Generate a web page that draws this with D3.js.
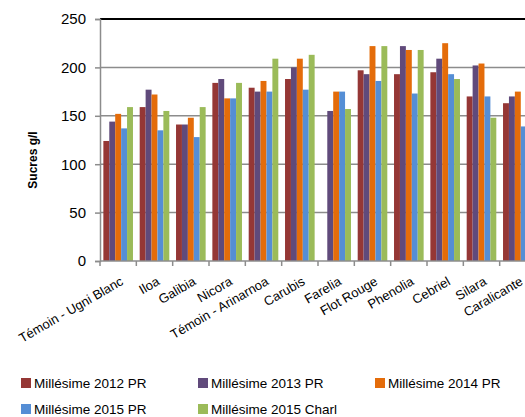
<!DOCTYPE html>
<html>
<head>
<meta charset="utf-8">
<script src="https://cdn.jsdelivr.net/npm/d3@7"></script>
<style>
  html, body { margin: 0; padding: 0; background: #fff; overflow: hidden; }
  svg { display: block; font-family: "Liberation Sans", Arial, sans-serif; }
</style>
</head>
<body>
<svg id="chart" width="525" height="417"></svg>
<script>
// Varieties (x categories)
const categories = ["Témoin - Ugni Blanc", "Iloa", "Galibia", "Nicora", "Témoin - Arinarnoa",
  "Carubis", "Farelia", "Flot Rouge", "Phenolia", "Cebriel", "Silara", "Caralicante"];

// Series names and sugar contents (g/l)
const seriesNames = ["Millésime 2012 PR", "Millésime 2013 PR", "Millésime 2014 PR",
  "Millésime 2015 PR", "Millésime 2015 Charl"];
const v2012PR = [124, 159, 141, 184, 179, 188, null, 197, 193, 195, 170, 163];
const v2013PR = [144, 177, 141, 188, 175, 200, 155, 193, 222, 209, 202, 170];
const v2014PR = [152, 172, 148, 168, 186, 209, 175, 222, 218, 225, 204, 175];
const v2015PR = [137, 135, 128, 168, 175, 177, 175, 186, 173, 193, 170, 139];
const v2015Charl = [159, 155, 159, 184, 209, 213, 157, 222, 218, 188, 148, 150];
const seriesColors = ["#953735", "#604a7b", "#e46c0a", "#558ed5", "#9bbb59"];
const yTicks = [0, 50, 100, 150, 200, 250];

const seriesValues = [v2012PR, v2013PR, v2014PR, v2015PR, v2015Charl];

const svg = d3.select("#chart");
const plot = { left: 100, right: 536, top: 19, bottom: 261 };

const x = d3.scaleBand().domain(categories)
  .range([plot.left, plot.right]).paddingInner(0.185).paddingOuter(0.0925);
const xs = d3.scaleBand().domain(d3.range(seriesNames.length))
  .range([0, x.bandwidth()]).padding(0);
const y = d3.scaleLinear().domain([0, 250]).range([plot.bottom, plot.top]);

// Horizontal gridlines
svg.append("g").selectAll("line").data(yTicks.filter(t => t > 0 && t < 250)).join("line")
  .attr("x1", plot.left).attr("x2", plot.right)
  .attr("y1", d => y(d)).attr("y2", d => y(d))
  .attr("stroke", "#8c8c8c").attr("stroke-width", 1.5);

// Top border line
svg.append("line")
  .attr("x1", plot.left).attr("x2", plot.right)
  .attr("y1", y(250)).attr("y2", y(250))
  .attr("stroke", "#000").attr("stroke-width", 2);

// Bars
const groups = svg.append("g").selectAll("g").data(categories).join("g")
  .attr("transform", d => `translate(${x(d)},0)`);
groups.selectAll("rect")
  .data((d, i) => seriesValues.map((vals, s) => ({ s, v: vals[i] })).filter(e => e.v != null))
  .join("rect")
  .attr("x", d => xs(d.s))
  .attr("width", xs.bandwidth())
  .attr("y", d => y(d.v))
  .attr("height", d => y(0) - y(d.v))
  .attr("fill", d => seriesColors[d.s]);

// Y axis
const yAxis = svg.append("g").attr("transform", `translate(${plot.left},0)`)
  .call(d3.axisLeft(y).tickValues(yTicks).tickSize(5).tickPadding(9).tickFormat(d3.format("d")));
yAxis.select(".domain").attr("stroke", "#8c8c8c").attr("stroke-width", 1.5);
yAxis.selectAll(".tick line").attr("stroke", "#8c8c8c").attr("stroke-width", 1.5);
yAxis.selectAll(".tick text").attr("font-size", 15).attr("fill", "#000")
  .attr("font-family", "'Liberation Sans', Arial, sans-serif");

// X axis baseline with ticks at category boundaries
const xBase = svg.append("g");
xBase.append("line").attr("x1", plot.left).attr("x2", plot.right)
  .attr("y1", y(0)).attr("y2", y(0)).attr("stroke", "#8c8c8c").attr("stroke-width", 1.5);
const step = x.step();
xBase.selectAll("line.tk").data(d3.range(categories.length + 1)).join("line")
  .attr("class", "tk")
  .attr("x1", i => plot.left + i * step).attr("x2", i => plot.left + i * step)
  .attr("y1", y(0)).attr("y2", y(0) + 5)
  .attr("stroke", "#8c8c8c").attr("stroke-width", 1.5);

// Rotated category labels
svg.append("g").selectAll("text").data(categories).join("text")
  .attr("transform", d => `translate(${x(d) + x.bandwidth() / 2 + 6},${y(0) + 23}) rotate(-30)`)
  .attr("text-anchor", "end")
  .attr("font-size", 13)
  .attr("fill", "#000")
  .text(d => d);

// Y axis title
svg.append("text")
  .attr("transform", `translate(37,160) rotate(-90)`)
  .attr("text-anchor", "middle")
  .attr("font-size", 12)
  .attr("font-weight", "bold")
  .attr("fill", "#000")
  .text("Sucres g/l");

// Legend
const legendPos = [[21, 383], [198, 383], [375, 383], [21, 409], [198, 409]];
const legend = svg.append("g").selectAll("g").data(seriesNames).join("g")
  .attr("transform", (d, i) => `translate(${legendPos[i][0]},${legendPos[i][1]})`);
legend.append("rect").attr("x", 0).attr("y", -5).attr("width", 10).attr("height", 10)
  .attr("fill", (d, i) => seriesColors[i]);
legend.append("text").attr("x", 13).attr("y", 5)
  .attr("font-size", 13.5).attr("fill", "#000")
  .text(d => d);
</script>
</body>
</html>
